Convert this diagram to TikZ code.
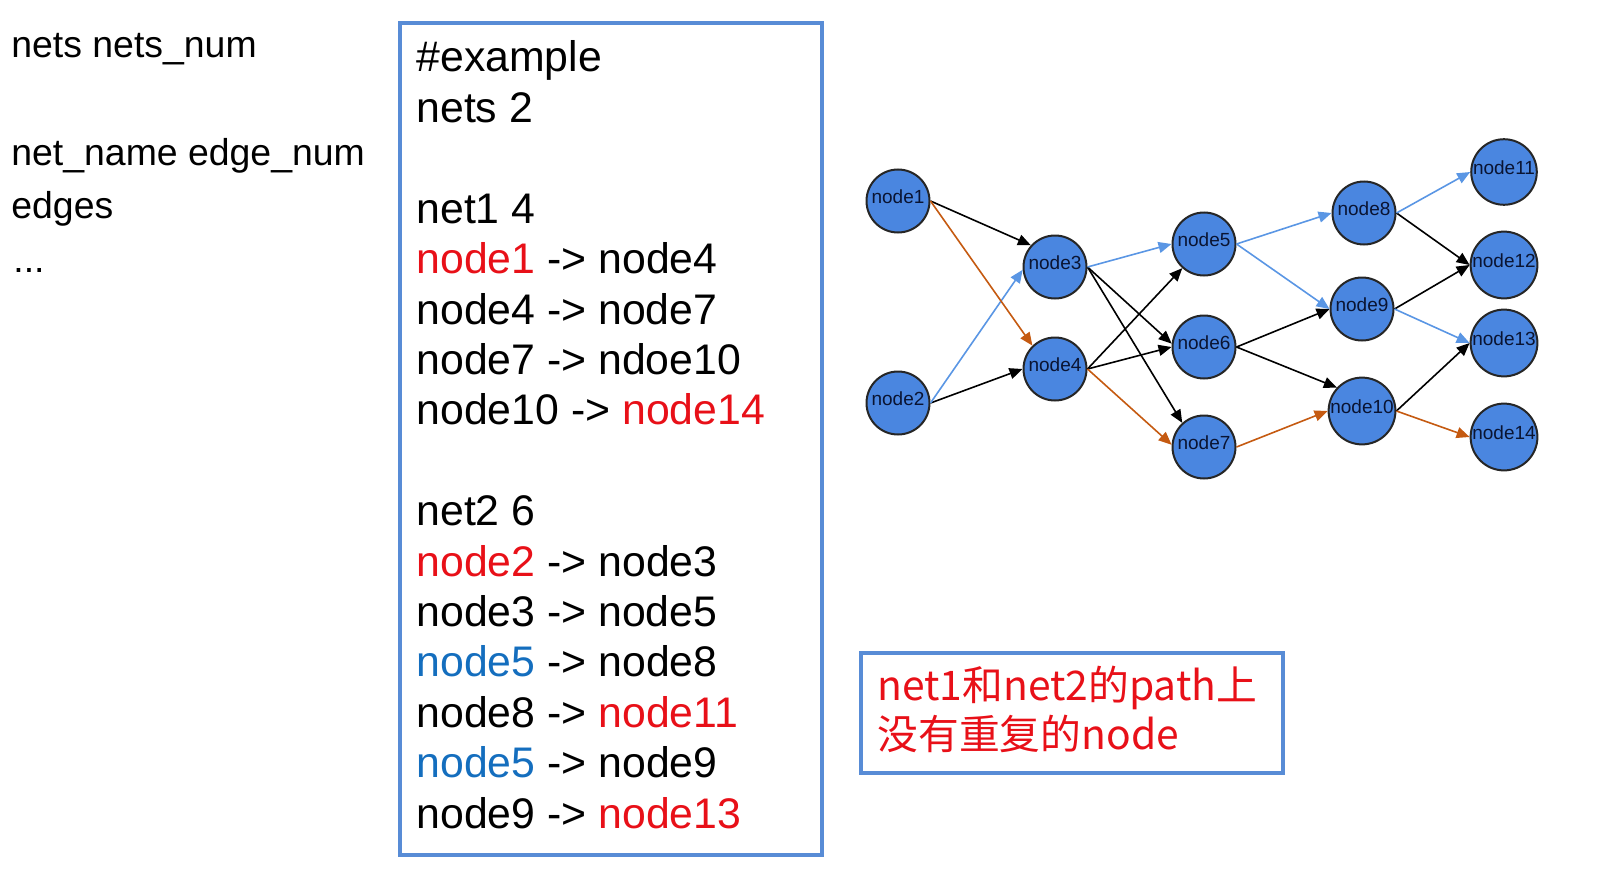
\documentclass[tikz,border=0pt]{standalone}
\usepackage{fontspec}
\setmainfont{Liberation Sans}
\newfontfamily\cjk{Noto Sans CJK SC}
\usetikzlibrary{arrows.meta}

\definecolor{frameblue}{RGB}{88,140,214}
\definecolor{nodeblue}{RGB}{74,134,224}
\definecolor{pathblue}{RGB}{90,150,228}
\definecolor{pathorange}{RGB}{197,90,17}
\definecolor{hotred}{RGB}{232,16,24}
\definecolor{keyblue}{RGB}{20,110,190}
\definecolor{labelink}{RGB}{10,20,50}

\begin{document}
\begin{tikzpicture}[x=0.5pt, y=-0.5pt,
    gnode/.style={circle, draw=black!85, line width=1pt, fill=nodeblue, minimum size=31.5pt, inner sep=0pt, text depth=4pt, text=labelink, font=\fontsize{9.5}{11}\selectfont},
    link/.style={line width=0.8pt, -{Triangle[length=6.5pt, width=5.5pt]}},
    lefttext/.style={anchor=base west, inner sep=0pt, font=\fontsize{18.7}{22}\selectfont},
    codeline/.style={anchor=base west, inner sep=0pt, font=\fontsize{21.4}{25}\selectfont},
    notetext/.style={anchor=base west, inner sep=0pt, text=hotred, font=\cjk\fontsize{20.4}{25}\selectfont},
    frame/.style={draw=frameblue, line width=2pt}]
        \useasboundingbox (0,0) rectangle (1621,883);

        % Format description on the left
        \node[lefttext] (fmt1) at (11,58) {nets nets\_num};
        \node[lefttext] (fmt2) at (11,165) {net\_name edge\_num};
        \node[lefttext] (fmt3) at (11,218) {edges};
        \node[lefttext] (fmt4) at (13,272) {...};

        % Example input file
        \draw[frame] (399.5,23) rectangle (821.5,855);
        \foreach \i/\txt in {0/{\#example}, 1/{nets 2}, 3/{net1 4},
                4/{\textcolor{hotred}{node1} -> node4}, 5/{node4 -> node7},
                6/{node7 -> ndoe10}, 7/{node10 -> \textcolor{hotred}{node14}},
                9/{net2 6}, 10/{\textcolor{hotred}{node2} -> node3}, 11/{node3 -> node5},
                12/{\textcolor{keyblue}{node5} -> node8}, 13/{node8 -> \textcolor{hotred}{node11}},
                14/{\textcolor{keyblue}{node5} -> node9}, 15/{node9 -> \textcolor{hotred}{node13}}} {
            \node[codeline] (line\i) at (416, 72+50.4*\i) {\txt};
        }

        % Graph nodes
        \foreach \n/\x/\y in {1/898/201, 2/898/403, 3/1055/267, 4/1055/369,
                5/1204/244, 6/1204/347, 7/1204/447, 8/1364/213, 9/1362/309,
                10/1362/411, 11/1504/172, 12/1504/265, 13/1504/343, 14/1504/437} {
            \node[gnode] (n\n) at (\x,\y) {node\n};
        }

        % Edges not used by a net
        \foreach \a/\b in {n1.east/n3.138, n2.east/n4.west, n3.east/n6.174, n3.east/n7.132,
                n4.east/n5.228, n4.east/n6.west, n6.east/n9.west, n6.east/n10.137,
                n8.east/n12.west, n9.east/n12.west, n10.east/n13.west} {
            \draw[link, black] (\a) -- (\b);
        }
        % net2 path
        \foreach \a/\b in {n2.east/n3.185, n3.east/n5.west, n5.east/n8.west, n5.east/n9.west,
                n8.east/n11.west, n9.east/n13.west} {
            \draw[link, pathblue] (\a) -- (\b);
        }
        % net1 path
        \foreach \a/\b in {n1.east/n4.134, n4.east/n7.176, n7.east/n10.west, n10.east/n14.west} {
            \draw[link, pathorange] (\a) -- (\b);
        }

        % Note
        \draw[frame] (860.5,653) rectangle (1283.3,773);
        \node[notetext] (note1) at (877,700) {net1和net2的path上};
        \node[notetext] (note2) at (877,749) {没有重复的node};
\end{tikzpicture}
\end{document}
